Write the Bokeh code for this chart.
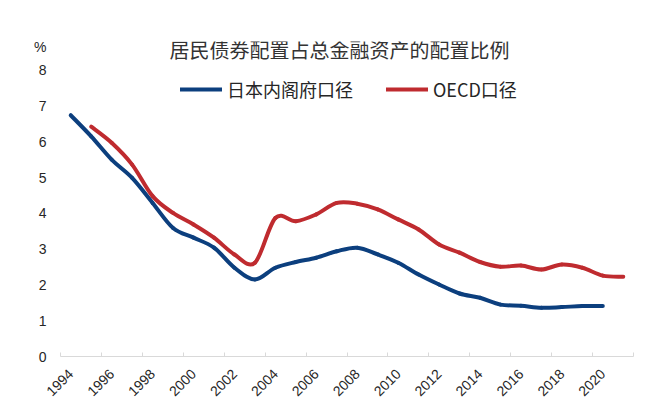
import math
from bokeh.plotting import figure
from bokeh.models import (Range1d, FixedTicker, Label, Legend, LegendItem,
                          ColumnDataSource)
from bokeh.embed import file_html
from bokeh.resources import INLINE

# ---- data ----
title_text = "居民债券配置占总金融资产的配置比例"
unit_text = "%"
name_jp = "日本内阁府口径"
name_oecd = "OECD口径"
years_jp = list(range(1994, 2021))
jp = [6.74, 6.15, 5.50, 4.99, 4.29, 3.59, 3.32, 3.04, 2.48, 2.15, 2.48, 2.64,
      2.76, 2.94, 3.04, 2.85, 2.62, 2.29, 2.01, 1.76, 1.64, 1.45, 1.42, 1.36,
      1.38, 1.41, 1.41]
years_oecd = list(range(1995, 2022))
oecd = [6.42, 5.97, 5.36, 4.48, 4.01, 3.69, 3.32, 2.85, 2.62, 3.87, 3.78, 3.97,
        4.29, 4.27, 4.11, 3.83, 3.55, 3.13, 2.90, 2.64, 2.51, 2.54, 2.43, 2.57,
        2.48, 2.26, 2.23]
tick_years = list(range(1994, 2021, 2))
y_ticks = list(range(0, 9))

BLUE = "#0C3F7E"
RED = "#BF2B2F"
TXT = "#262626"

UNIT_POS = 8.65      # where the unit sign sits on the value axis
TITLE_POS = (2007.13, 8.59)


def smooth_segments(xs, ys):
    """Cubic Bezier segments (Excel-style smoothed line) between the points."""
    n = len(xs)
    d = dict(x0=[], y0=[], x1=[], y1=[], cx0=[], cy0=[], cx1=[], cy1=[])
    for i in range(n - 1):
        xm, ym = (xs[i - 1], ys[i - 1]) if i > 0 else (xs[i], ys[i])
        xp, yp = (xs[i + 2], ys[i + 2]) if i + 2 < n else (xs[i + 1], ys[i + 1])
        d["x0"].append(xs[i]); d["y0"].append(ys[i])
        d["x1"].append(xs[i + 1]); d["y1"].append(ys[i + 1])
        d["cx0"].append(xs[i] + (xs[i + 1] - xm) / 6.0)
        d["cy0"].append(ys[i] + (ys[i + 1] - ym) / 6.0)
        d["cx1"].append(xs[i + 1] - (xp - xs[i]) / 6.0)
        d["cy1"].append(ys[i + 1] - (yp - ys[i]) / 6.0)
    return ColumnDataSource(d)


p = figure(width=641, height=406, output_backend="svg", toolbar_location=None,
           x_range=Range1d(1993.5, 2021.5), y_range=Range1d(0, 8.8),
           min_border_left=60, min_border_right=8, min_border_top=41,
           min_border_bottom=50)
p.outline_line_color = None
p.xgrid.visible = False
p.ygrid.visible = False
p.background_fill_color = "white"

r_jp = p.bezier(x0="x0", y0="y0", x1="x1", y1="y1", cx0="cx0", cy0="cy0",
                cx1="cx1", cy1="cy1", source=smooth_segments(years_jp, jp),
                line_color=BLUE, line_width=4, line_cap="round")
r_oecd = p.bezier(x0="x0", y0="y0", x1="x1", y1="y1", cx0="cx0", cy0="cy0",
                  cx1="cx1", cy1="cy1", source=smooth_segments(years_oecd, oecd),
                  line_color=RED, line_width=4, line_cap="round")

# x axis
xa = p.xaxis[0]
xa.ticker = FixedTicker(ticks=tick_years,
                        minor_ticks=[y - 0.5 for y in range(1994, 2023, 2)])
xa.axis_line_color = "#D9D9D9"
xa.axis_line_width = 1
xa.major_tick_line_color = None
xa.major_tick_in = 0
xa.major_tick_out = 0
xa.minor_tick_line_color = "#D9D9D9"
xa.minor_tick_in = 4
xa.minor_tick_out = 0
xa.major_label_orientation = math.pi / 4
xa.major_label_standoff = 15
xa.major_label_text_font = "Liberation Sans"
xa.major_label_text_font_size = "14px"
xa.major_label_text_color = TXT

# y axis (the unit sign is shown as an extra label above the top value)
ya = p.yaxis[0]
ya.ticker = FixedTicker(ticks=y_ticks + [UNIT_POS])
ya.major_label_overrides = {UNIT_POS: unit_text}
ya.axis_line_color = None
ya.major_tick_line_color = None
ya.minor_tick_line_color = None
ya.major_tick_out = 0
ya.major_tick_in = 0
ya.major_label_standoff = 14
ya.major_label_text_font = "Liberation Sans"
ya.major_label_text_font_size = "14px"
ya.major_label_text_color = TXT

# title
p.add_layout(Label(x=TITLE_POS[0], y=TITLE_POS[1], text=title_text,
                   text_align="center", text_baseline="middle",
                   text_font="Noto Sans CJK SC", text_font_size="20px",
                   text_color="#333333"))

legend = Legend(items=[LegendItem(label=name_jp, renderers=[r_jp]),
                       LegendItem(label=name_oecd, renderers=[r_oecd])],
                orientation="horizontal", location=(120, 254),
                border_line_alpha=0, background_fill_alpha=0,
                padding=0, margin=0, spacing=33, glyph_width=42,
                glyph_height=20, label_height=20, label_standoff=5,
                label_text_font="Noto Sans CJK SC", label_text_font_size="18px",
                label_text_color=TXT)
p.add_layout(legend)

open("out.html", "w").write(file_html(p, INLINE))
